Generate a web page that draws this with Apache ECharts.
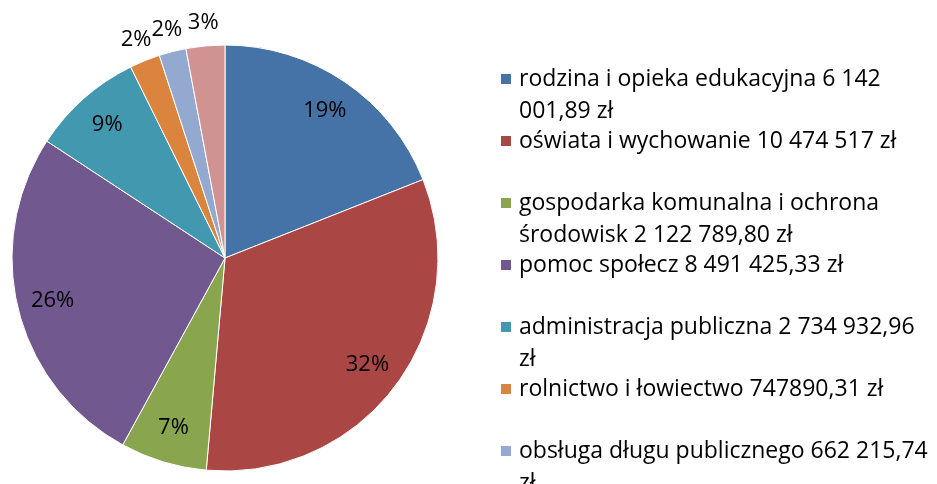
<!DOCTYPE html>
<html>
<head>
<meta charset="utf-8">
<script src="https://cdn.jsdelivr.net/npm/echarts@6/dist/echarts.min.js"></script>
<style>
html, body { margin: 0; padding: 0; background: #fff; }
#main { width: 937px; height: 484px; }
</style>
</head>
<body>
<div id="main"></div>
<script>
// kategorie wydatków (ostatnia pozycja nie mieści się w legendzie)
var categories = [
    'rodzina i opieka edukacyjna',
    'oświata i wychowanie',
    'gospodarka komunalna i ochrona środowisk',
    'pomoc społecz',
    'administracja publiczna',
    'rolnictwo i łowiectwo',
    'obsługa długu publicznego',
    'pozostałe'
];
var values = [6142001.89, 10474517, 2122789.80, 8491425.33, 2734932.96, 747890.31, 662215.74, 950000];
var pctLabels = ['19%', '32%', '7%', '26%', '9%', '2%', '2%', '3%'];
var legendLabels = [
    'rodzina i opieka edukacyjna 6 142\n001,89 zł',
    'oświata i wychowanie 10 474 517 zł\n ',
    'gospodarka komunalna i ochrona\nśrodowisk 2 122 789,80 zł',
    'pomoc społecz 8 491 425,33 zł\n ',
    'administracja publiczna 2 734 932,96\nzł',
    'rolnictwo i łowiectwo 747890,31 zł\n ',
    'obsługa długu publicznego 662 215,74\nzł',
    'pozostałe\n '
];
var colors = ['#4572A7', '#AA4643', '#89A54E', '#71588F', '#4198AF', '#DB843D', '#93A9CF', '#D19392'];

var FONT = 'Open Sans';
var FS = 23;
var R = 213;

var pieData = [];
var innerLabels = [];
var outerLabels = [];
for (var i = 0; i < categories.length; i++) {
    var small = values[i] < 1000000;
    pieData.push({ name: categories[i], value: values[i] });
    innerLabels.push({ name: categories[i], value: values[i], label: { show: !small } });
    outerLabels.push({ name: categories[i], value: values[i], label: { show: small } });
}

var labelRing = function (radius, data) {
    // przezroczysty pierścień tylko dla etykiet procentowych
    return {
        type: 'pie',
        center: [225, 258],
        radius: radius,
        startAngle: 90,
        clockwise: true,
        silent: true,
        avoidLabelOverlap: false,
        itemStyle: { color: 'rgba(0,0,0,0)' },
        label: {
            position: 'inside',
            fontFamily: FONT,
            fontSize: 22,
            color: '#000',
            formatter: function (p) { return pctLabels[p.dataIndex]; }
        },
        labelLine: { show: false },
        emphasis: { disabled: true },
        data: data
    };
};

var chart = echarts.init(document.getElementById('main'));
chart.setOption({
    animation: false,
    color: colors,
    legend: {
        orient: 'vertical',
        left: 499,
        top: 31,
        height: 2000,
        padding: 0,
        itemWidth: 12,
        itemHeight: 12,
        itemGap: -34,
        icon: 'rect',
        selectedMode: false,
        data: categories,
        formatter: function (name) {
            return ' \n' + legendLabels[categories.indexOf(name)];
        },
        textStyle: {
            fontFamily: FONT,
            fontSize: FS,
            color: '#000',
            lineHeight: 32,
            padding: [0, 0, 0, 2]
        }
    },
    series: [{
        type: 'pie',
        center: [225, 258],
        radius: [0, R],
        startAngle: 90,
        clockwise: true,
        avoidLabelOverlap: false,
        itemStyle: { borderColor: '#fff', borderWidth: 1 },
        label: { show: false },
        labelLine: { show: false },
        emphasis: { disabled: true },
        data: pieData
    },
    labelRing([R * 0.64, R], innerLabels),
    labelRing([R, R + 40], outerLabels)]
});
</script>
</body>
</html>
